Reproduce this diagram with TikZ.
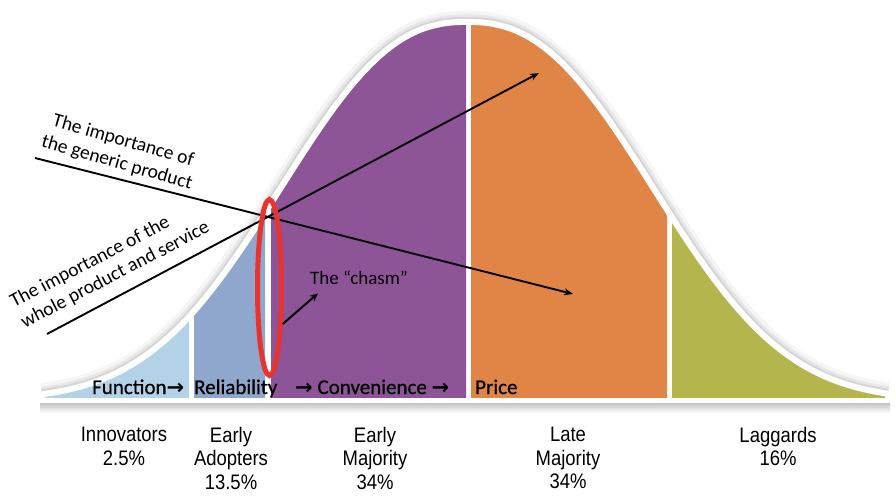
\documentclass[tikz,border=0pt]{standalone}
\usepackage{fontspec}
\setmainfont{Carlito}
\newfontfamily\stagefont[FakeBold=0.6]{Carlito}
\newfontfamily\labelfont[FakeStretch=0.88]{Liberation Sans}
\newfontfamily\symfont{DejaVu Sans}
\usetikzlibrary{arrows.meta,shapes.geometric}
\definecolor{cInnov}{HTML}{B4D2E7}
\definecolor{cEarly}{HTML}{8FA7CD}
\definecolor{cMajE}{HTML}{8D5598}
\definecolor{cMajL}{HTML}{E08545}
\definecolor{cLag}{HTML}{B5B54E}
\definecolor{chasmred}{HTML}{E8342F}
\newcommand\segfill[3]{\fill[#1] (#2,398) -- plot[domain=#2:#3, samples=60] (\x,{bell(\x)}) -- (#3,398) -- cycle;}
\newcommand\rarr{{\symfont\bfseries →}}
\begin{document}
\begin{tikzpicture}[x=1pt,y=-1pt,
  declare function={bell(\x)=400-378*exp(-((abs(\x-467)+0.01)/234)^2.4);},
  stagetext/.style={inner sep=0, anchor=base west, font=\stagefont\fontsize{21}{25}\selectfont},
  slanttext/.style={inner sep=0, font=\fontsize{19.5}{23}\selectfont},
  grouplabel/.style={inner sep=0, anchor=north, align=center, font=\labelfont\fontsize{21}{23.5}\selectfont},
  ptr/.style={draw, line width=1.9, -{Stealth[length=9,width=7]}}]
\useasboundingbox (0,0) rectangle (895,497);
% soft shadow around the curve
\foreach \w/\o in {22/0.04, 15/0.06, 10/0.08}
  \draw[black, opacity=\o, line width=\w] plot[domain=42:888, samples=200] (\x,{bell(\x)});
\fill[white] (42,402) -- plot[domain=42:888, samples=200] (\x,{bell(\x)}) -- (888,402) -- cycle;
% segments
\segfill{cInnov}{45}{189}
\segfill{cEarly}{194}{265}
\segfill{cMajE}{271}{466}
\segfill{cMajL}{471}{667}
\segfill{cLag}{672}{885}
% white outline of the curve
\draw[white, line width=6] plot[domain=42:888, samples=200] (\x,{bell(\x)});
% base line with its shadow
\shade[top color=black!28, bottom color=white] (40,401) rectangle (890,413);
\draw[white, line width=5] (40,400) -- (890,400);
% stage texts
\node[stagetext] (fn) at (92,394) {Function\rarr};
\node[stagetext] (rel) at (194,394) {Reliability};
\node[stagetext] (conv) at (295,394) {\rarr{} Convenience \rarr};
\node[stagetext] (price) at (475,394) {Price};
% importance lines
\coordinate (gA) at (35,158);
\coordinate (gB) at (573,294);
\coordinate (wA) at (47,334);
\coordinate (wB) at (539,73);
\draw[ptr] (gA) -- (gB);
\draw[ptr] (wA) -- (wB);
\node[slanttext, align=center, rotate=-16] (generic) at (120,152) {The importance of\\the generic product};
\node[slanttext, align=left, rotate=27.5] (whole) at (110,265) {The importance of the\\whole product and service};
% chasm
\node[draw=chasmred, line width=5, ellipse, minimum width=24, minimum height=176, inner sep=0] (chasm) at (269.5,287.5) {};
\node[inner sep=0, anchor=base west, font=\fontsize{19}{23}\selectfont] (chasmtxt) at (310,285) {The “chasm”};
\draw[ptr, line width=2, -{Stealth[length=8,width=7]}] (chasm.-70) -- ([shift={(8,8)}]chasmtxt.south west);
% group labels
\node[grouplabel] (innov) at (124,427) {Innovators\\2.5\%};
\node[grouplabel] (adopt) at (231,427) {Early\\Adopters\\13.5\%};
\node[grouplabel] (emaj) at (375,427) {Early\\Majority\\34\%};
\node[grouplabel] (lmaj) at (568,427) {Late\\Majority\\34\%};
\node[grouplabel] (lagg) at (778,427) {Laggards\\16\%};
\end{tikzpicture}
\end{document}
